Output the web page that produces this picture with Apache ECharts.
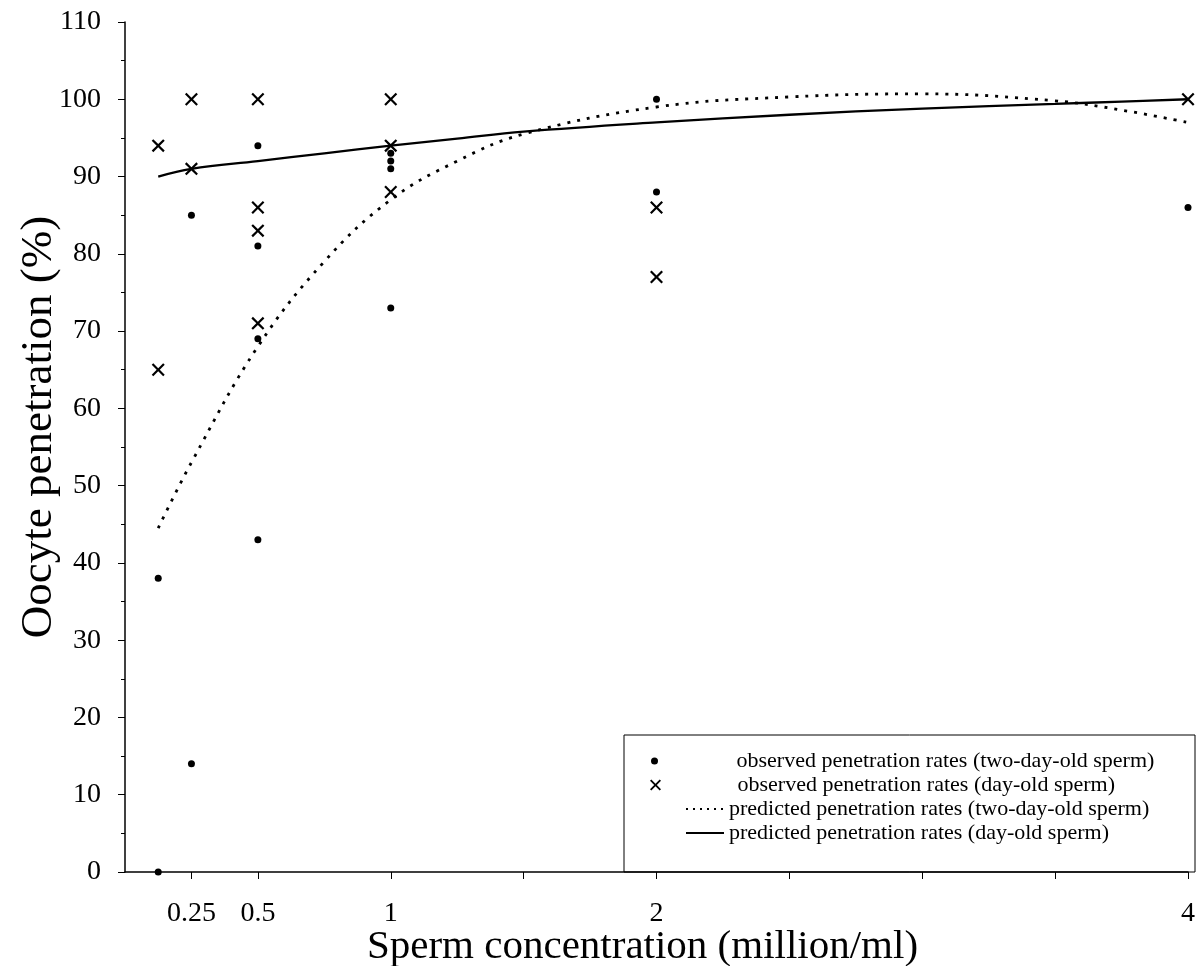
<!DOCTYPE html>
<html>
  <head>
    <title>Oocyte penetration</title>
    <meta charset="utf-8">
    <script type="text/javascript" src="https://cdn.jsdelivr.net/npm/echarts@6/dist/echarts.min.js"></script>
    <style>
      html, body { margin: 0; padding: 0; background: #fff; }
    </style>
  </head>
  <body>
  <div id="main" style="width: 1202px;height:966px;"></div>

  <script type="text/javascript">
    // observed points, two-day-old sperm (dots)
    var twoDayObsX = [0.125, 0.125, 0.25, 0.25, 0.5, 0.5, 0.5, 0.5, 1, 1, 1, 1, 2, 2, 4];
    var twoDayObsY = [38, 0, 85, 14, 94, 81, 69, 43, 93, 92, 91, 73, 100, 88, 86];
    // observed points, day-old sperm (crosses)
    var dayObsX = [0.125, 0.125, 0.25, 0.25, 0.5, 0.5, 0.5, 0.5, 1, 1, 1, 2, 2, 4];
    var dayObsY = [94, 65, 100, 91, 100, 86, 83, 71, 100, 94, 88, 86, 77, 100];
    // predicted curves
    var curveX = [0.125, 0.25, 0.5, 0.75, 1, 1.25, 1.5, 2, 2.5, 3, 3.5, 3.75, 4];
    var twoDayPred = [44.5, 53, 68, 79, 87, 92, 95.5, 99, 100.3, 100.7, 99.8, 98.6, 97];
    var dayPred = [90, 91, 92, 93, 94, 94.9, 95.8, 97, 98, 98.8, 99.4, 99.7, 100];
    // axis labels / ticks
    var xLabels = [0.25, 0.5, 1, 2, 4];
    var xTicks = [0.25, 0.5, 1, 1.5, 2, 2.5, 3, 3.5, 4];

    var names = [
      'observed penetration rates (two-day-old sperm)',
      'observed penetration rates (day-old sperm)',
      'predicted penetration rates (two-day-old sperm)',
      'predicted penetration rates (day-old sperm)'
    ];

    function pairs(xs, ys) {
      var out = [];
      for (var i = 0; i < xs.length; i++) out.push([xs[i], ys[i]]);
      return out;
    }

    var serif = '"Liberation Serif", "DejaVu Serif", serif';
    var crossPath = 'path://M0,1.2L1.2,0L5,3.8L8.8,0L10,1.2L6.2,5L10,8.8L8.8,10L5,6.2L1.2,10L0,8.8L3.8,5Z';

    // legend text, the observed rows get pushed right to line up with the box column
    function legendText(padLeft) {
      return { fontFamily: serif, fontSize: 22, color: '#000', lineHeight: 22, padding: [0, 0, 0, padLeft] };
    }

    var myChart = echarts.init(document.getElementById('main'), null, { renderer: 'canvas' });
    var option = {
      backgroundColor: '#fff',
      animation: false,
      grid: { left: 125, right: 14, top: 22, bottom: 94, containLabel: false, outerBoundsMode: 'none' },
      legend: [
        { data: [names[0]], left: 651, top: 750, padding: 0, itemWidth: 10, itemHeight: 7, textStyle: legendText(72) },
        { data: [names[1]], left: 650, top: 774, padding: 0, itemWidth: 12, itemHeight: 11, textStyle: legendText(71) },
        { data: [names[2]], left: 685, top: 798, padding: 0, itemWidth: 38, itemHeight: 10, textStyle: legendText(0),
          itemStyle: { opacity: 0 }, lineStyle: { type: [2, 5], width: 2 } },
        { data: [names[3]], left: 685, top: 822, padding: 0, itemWidth: 38, itemHeight: 10, textStyle: legendText(0),
          itemStyle: { opacity: 0 } }
      ],
      graphic: [{
        type: 'rect',
        shape: { x: 624, y: 735, width: 571, height: 137 },
        style: { fill: 'none', stroke: '#000', lineWidth: 1 },
        z: 100
      }],
      xAxis: {
        type: 'value',
        min: 0,
        max: 4,
        name: 'Sperm concentration (million/ml)',
        nameLocation: 'middle',
        nameGap: 55,
        nameMoveOverlap: false,
        nameTextStyle: { fontFamily: serif, fontSize: 41, color: '#000', padding: [0, 28, 0, 0] },
        axisLine: { lineStyle: { color: '#000', width: 1.5 } },
        axisTick: { customValues: xTicks, length: 7, lineStyle: { color: '#000' } },
        axisLabel: { customValues: xLabels, fontFamily: serif, fontSize: 28, color: '#000', margin: 28 },
        splitLine: { show: false }
      },
      yAxis: {
        type: 'value',
        min: 0,
        max: 110,
        interval: 10,
        name: 'Oocyte penetration (%)',
        nameLocation: 'middle',
        nameGap: 63,
        nameMoveOverlap: false,
        nameTextStyle: { fontFamily: serif, fontSize: 45, color: '#000', padding: [0, 0, 0, 40] },
        axisLine: { show: true, lineStyle: { color: '#000', width: 1.5 } },
        axisTick: { show: true, length: 7, lineStyle: { color: '#000' } },
        minorTick: { show: true, splitNumber: 2, length: 4, lineStyle: { color: '#000' } },
        axisLabel: { fontFamily: serif, fontSize: 28, color: '#000', margin: 24 },
        splitLine: { show: false }
      },
      series: [
        {
          name: names[0],
          type: 'scatter',
          symbol: 'circle',
          symbolSize: 7,
          clip: false,
          itemStyle: { color: '#000', opacity: 1 },
          data: pairs(twoDayObsX, twoDayObsY)
        },
        {
          name: names[1],
          type: 'scatter',
          symbol: crossPath,
          symbolSize: 13,
          clip: false,
          itemStyle: { color: '#000', opacity: 1 },
          data: pairs(dayObsX, dayObsY)
        },
        {
          name: names[2],
          type: 'line',
          smooth: 0.4,
          symbol: 'none',
          lineStyle: { color: '#000', width: 2.8, type: [3, 7] },
          itemStyle: { color: '#000' },
          data: pairs(curveX, twoDayPred)
        },
        {
          name: names[3],
          type: 'line',
          smooth: 0.4,
          symbol: 'none',
          lineStyle: { color: '#000', width: 2.3 },
          itemStyle: { color: '#000' },
          data: pairs(curveX, dayPred)
        }
      ]
    };

    myChart.setOption(option);
  </script>
  </body>
</html>
